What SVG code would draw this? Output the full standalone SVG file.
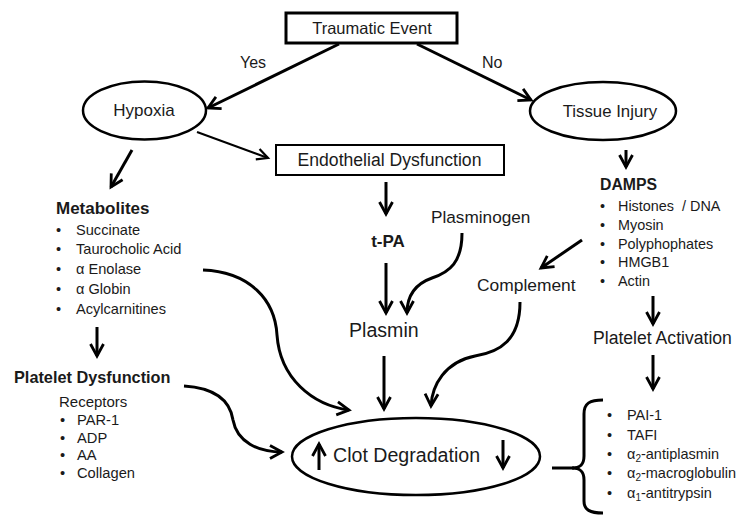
<svg xmlns="http://www.w3.org/2000/svg" width="752" height="518" viewBox="0 0 752 518">
<defs>
<style>
text{font-family:"Liberation Sans",Arial,sans-serif;fill:#1a1a1a}
.b{font-weight:bold}
.c{stroke:#000;fill:none;stroke-width:3}
.t{stroke:#000;fill:none;stroke-width:2}
.n{stroke:#000;fill:#fff;stroke-width:2.5}
</style>
<marker id="ah" markerUnits="userSpaceOnUse" markerWidth="16" markerHeight="16" refX="13" refY="8" orient="auto" viewBox="0 0 16 16" overflow="visible">
<path d="M1,1.5 L13,8 L1,14.5" fill="none" stroke="#000" stroke-width="2.8" stroke-linejoin="miter"/>
</marker>
<marker id="ahs" markerUnits="userSpaceOnUse" markerWidth="16" markerHeight="16" refX="13" refY="8" orient="auto" viewBox="0 0 16 16" overflow="visible">
<path d="M2,2.5 L13,8 L2,13.5" fill="none" stroke="#000" stroke-width="2.2" stroke-linejoin="miter"/>
</marker>
</defs>
<rect width="752" height="518" fill="#fff"/>

<g id="connectors">
<path class="c" d="M339,44 L208,108" marker-end="url(#ah)"/>
<path class="c" d="M417,44 L531,100" marker-end="url(#ah)"/>
<path class="c" d="M132,150 L111,187" marker-end="url(#ah)"/>
<path class="t" d="M197,132 L268,158" marker-end="url(#ahs)"/>
<path class="c" d="M386,182 L386,214" marker-end="url(#ah)"/>
<path class="c" d="M386,263 L386,313" marker-end="url(#ah)"/>
<path class="c" d="M462,233 C462,262 450,272 432,278 C415,284 407,295 407,313" marker-end="url(#ah)"/>
<path class="c" d="M97,327 L97,356" marker-end="url(#ah)"/>
<path class="c" d="M203,270 C250,272 275,300 277,335 C280,378 312,405 349,410" marker-end="url(#ah)"/>
<path class="c" d="M184,386 C215,388 230,400 233,420 C237,442 258,452 282,452" marker-end="url(#ah)"/>
<path class="c" d="M384,356 L384,409" marker-end="url(#ah)"/>
<path class="c" d="M520,302 C520,340 500,352 475,356 C445,362 432,385 431,406" marker-end="url(#ah)"/>
<path class="c" d="M626,150 L626,167" marker-end="url(#ah)"/>
<path class="c" d="M582,240 L541,268" marker-end="url(#ah)"/>
<path class="c" d="M653,296 L653,324" marker-end="url(#ah)"/>
<path class="c" d="M653,355 L653,389" marker-end="url(#ah)"/>
<path class="c" d="M319,470 L319,444" marker-end="url(#ah)"/>
<path class="c" d="M503,440 L503,468" marker-end="url(#ah)"/>
</g>

<g id="traumatic-event">
<rect x="286" y="13" width="171" height="30" fill="#fff" stroke="#000" stroke-width="3"/>
<text x="372" y="34" font-size="16.5" text-anchor="middle">Traumatic Event</text>
</g>
<g id="label-yes"><text x="240" y="68" font-size="16">Yes</text></g>
<g id="label-no"><text x="482" y="68" font-size="16">No</text></g>

<g id="hypoxia">
<ellipse class="n" cx="144.5" cy="110.5" rx="61.5" ry="29"/>
<text x="144" y="116" font-size="17" text-anchor="middle">Hypoxia</text>
</g>

<g id="tissue-injury">
<ellipse class="n" cx="603" cy="111" rx="73" ry="29"/>
<text x="610" y="117" font-size="16.8" text-anchor="middle">Tissue Injury</text>
</g>

<g id="endothelial-dysfunction">
<rect x="276" y="145" width="228" height="30" fill="#fff" stroke="#000" stroke-width="2"/>
<text x="389.5" y="166" font-size="17.6" text-anchor="middle">Endothelial Dysfunction</text>
</g>

<g id="t-pa"><text class="b" x="388" y="247" font-size="17" text-anchor="middle">t-PA</text></g>
<g id="plasminogen"><text x="431" y="223" font-size="17.2">Plasminogen</text></g>
<g id="plasmin"><text x="349" y="337" font-size="19.6">Plasmin</text></g>
<g id="complement"><text x="477" y="291" font-size="17.4">Complement</text></g>

<g id="metabolites">
<text class="b" x="56" y="214" font-size="17">Metabolites</text>
<g font-size="14.6">
<text x="56" y="235">•</text><text x="76" y="235">Succinate</text>
<text x="56" y="254">•</text><text x="76" y="254">Taurocholic Acid</text>
<text x="56" y="274">•</text><text x="76" y="274">α Enolase</text>
<text x="56" y="294">•</text><text x="76" y="294">α Globin</text>
<text x="56" y="314">•</text><text x="76" y="314">Acylcarnitines</text>
</g>
</g>

<g id="platelet-dysfunction">
<text class="b" x="14" y="383" font-size="16.3">Platelet Dysfunction</text>
<text x="59" y="407" font-size="15">Receptors</text>
<g font-size="14.7">
<text x="60" y="425">•</text><text x="77" y="425">PAR-1</text>
<text x="60" y="443">•</text><text x="77" y="443">ADP</text>
<text x="60" y="460">•</text><text x="77" y="460">AA</text>
<text x="60" y="478">•</text><text x="77" y="478">Collagen</text>
</g>
</g>

<g id="damps">
<text class="b" x="600" y="190" font-size="15.8">DAMPS</text>
<g font-size="14.4">
<text x="600" y="211">•</text><text x="618" y="211">Histones<tspan dx="8">/ DNA</tspan></text>
<text x="600" y="230">•</text><text x="618" y="230">Myosin</text>
<text x="600" y="249">•</text><text x="618" y="249">Polyphophates</text>
<text x="600" y="267">•</text><text x="618" y="267">HMGB1</text>
<text x="600" y="286">•</text><text x="618" y="286">Actin</text>
</g>
</g>

<g id="platelet-activation"><text x="593" y="344" font-size="17.6">Platelet Activation</text></g>

<g id="clot-degradation">
<ellipse cx="416" cy="456.5" rx="124" ry="38.5" fill="none" stroke="#000" stroke-width="2.5"/>
<text x="333" y="462" font-size="19.6">Clot Degradation</text>
</g>

<g id="inhibitors">
<path d="M603,400 C590,400 584,403 584,414 L584,456 C584,465 580,468 572,468 C580,468 584,471 584,480 L584,501 C584,510 590,513 603,513" fill="none" stroke="#000" stroke-width="3"/>
<path d="M552,468 L574,468" fill="none" stroke="#000" stroke-width="3"/>
<g font-size="14.5">
<text x="607" y="420">•</text><text x="627" y="420">PAI-1</text>
<text x="607" y="440">•</text><text x="627" y="440">TAFI</text>
<text x="607" y="459">•</text><text x="627" y="459">α<tspan font-size="10" dy="3">2</tspan><tspan dy="-3">-antiplasmin</tspan></text>
<text x="607" y="478">•</text><text x="627" y="478">α<tspan font-size="10" dy="3">2</tspan><tspan dy="-3">-macroglobulin</tspan></text>
<text x="607" y="498">•</text><text x="627" y="498">α<tspan font-size="10" dy="3">1</tspan><tspan dy="-3">-antitrypsin</tspan></text>
</g>
</g>
</svg>
